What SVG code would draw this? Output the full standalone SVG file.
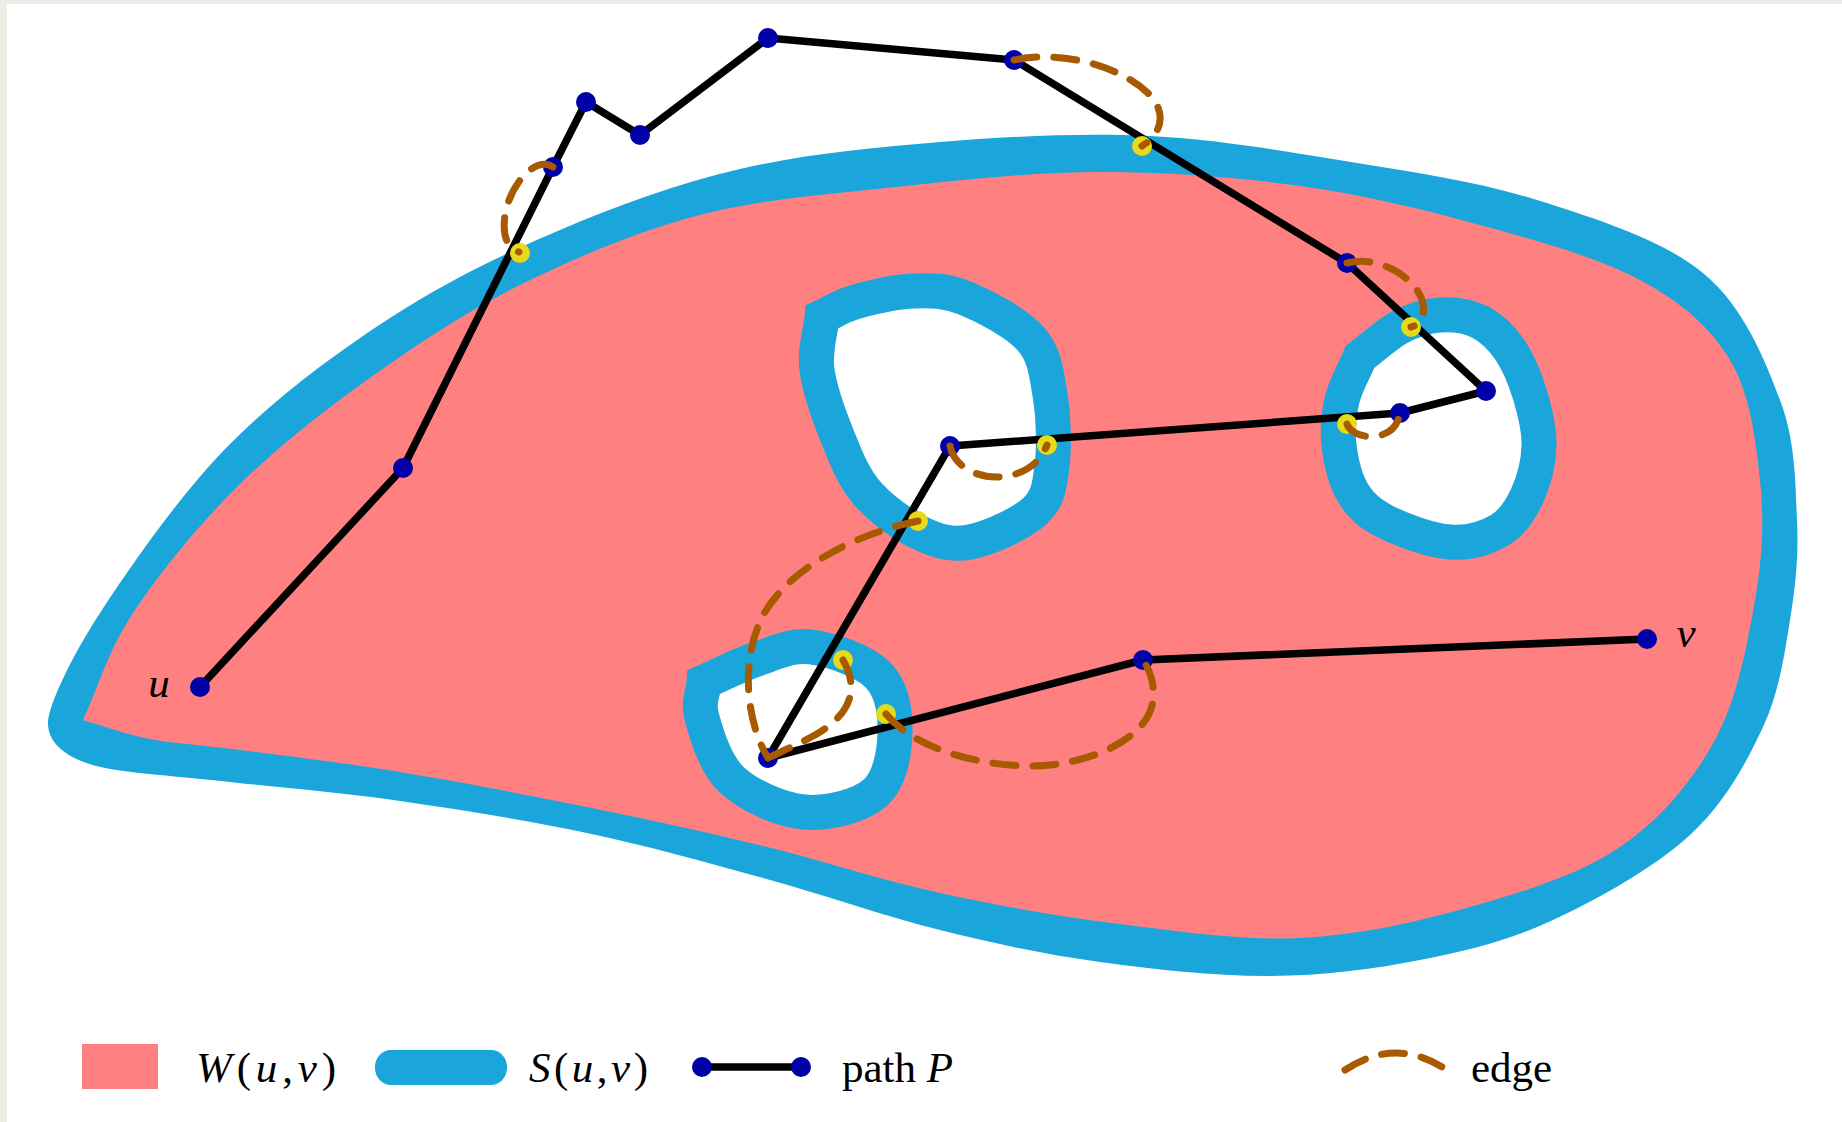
<svg xmlns="http://www.w3.org/2000/svg" width="1842" height="1122" viewBox="0 0 1842 1122">
<style>
.band{fill:#1AA6DB}
.pink{fill:#FF8080}
.hole{fill:#FFFFFF;stroke:#1AA6DB;stroke-width:35;stroke-linejoin:miter;stroke-miterlimit:10}
.path{fill:none;stroke:#000000;stroke-width:7.5;stroke-linejoin:round;stroke-linecap:round}
.edge{fill:none;stroke:#A85A00;stroke-width:7;stroke-linecap:round;stroke-dasharray:23 17}
.node{fill:#0000A8}
.ynode{fill:#E6DA1A}
.t{font-family:"Liberation Serif",serif;font-size:43px;fill:#000}
.i{font-style:italic}
</style>
<rect width="1842" height="1122" fill="#EDEDE6"/>
<rect x="7" y="4" width="1835" height="1118" fill="#FFFFFF"/>
<g id="region">
<path class="band" d="M48,722 C49,705 70,659 100,613 S179.67,495.17 228,446 S334.67,354 390,318 S501.67,254.83 560,230 S676.67,183.67 740,169 S871.67,147.5 940,142 S1081.5,132.67 1150,136 S1286.5,151.5 1351,162 S1478.33,181.5 1537,200 S1662.5,239.67 1703,273 S1764.33,358.83 1780,400 S1795.33,483.33 1797,520 S1795.67,585.5 1790,620 S1779.67,691.17 1763,727 S1725,802.83 1690,835 S1598,899.17 1553,920 S1467.17,950.67 1420,960 S1323.33,975.67 1270,976 S1155,969.67 1100,962 S996.17,944 940,930 S821.83,894.17 763,878 S647.5,845.83 587,833 S459.5,809.5 400,801 S279.17,787.5 230,782 S133.83,773.67 105,768 C76.17,762.33 47,748 48,722 Z"/>
<path class="pink" d="M83,720 C99.67,684.33 107.5,651.67 133,613 S197,526.83 236,488 S319.67,413.83 367,380 S464.5,312.5 520,285 S637.33,231.33 700,215 S829.33,194.17 896,187 S1032.67,172.17 1100,172 S1236.67,177.17 1300,186 S1423.33,209.33 1480,225 S1598.33,257.5 1640,280 S1710,326.67 1730,360 S1755.83,440 1760,480 S1762.5,556.67 1755,600 S1737.5,698.83 1715,740 S1660.83,819.17 1620,847 S1523.33,891.83 1470,907 S1358.33,935.17 1300,938 S1180,931.5 1120,924 S999.5,906 940,893 S821.83,860.33 763,846 S647.5,819.33 587,807 S457.83,781.5 400,772 S281.67,755.5 240,750 S176.17,744 150,739 S105.33,726.33 83,720 Z"/>
</g>
<g id="hole1"><path class="hole" d="M822,317 C833,312 839.83,306.33 855,302 S894.67,291.67 913,291 S945.33,290 965,298 S1016.83,322.83 1031,339 S1046.5,373.83 1050,395 S1054.5,446.67 1052,466 S1048.67,498.33 1035,511 S989.17,538.33 970,542 S937.17,541.17 920,533 S880.67,508.83 867,493 S846.33,458.5 838,438 S819.67,390.17 817,370 S820.33,334.67 822,317 Z"/></g>
<g id="hole2"><path class="hole" d="M1360,357 C1373.33,347 1386.67,334 1400,327 S1426.67,315.83 1440,315 S1468.33,316.17 1480,322 S1501.67,337.83 1510,350 S1525.17,379 1530,395 S1539.5,429.17 1539,446 S1533.5,482 1527,496 S1512.83,522.33 1500,530 S1469,543.33 1450,542 S1402.17,530.17 1386,522 S1360.83,505.83 1353,493 S1340.83,460.5 1339,445 S1338.5,414.67 1342,400 S1354,371.33 1360,357 Z"/></g>
<g id="hole3"><path class="hole" d="M704,682 C721.67,674.33 739.17,664.83 757,659 S790.83,644.33 811,647 S864,660.67 878,675 S895.5,713.33 895,733 S890.17,779.83 875,793 S827.83,814.17 804,812 S749,795.67 732,780 S706.67,734.33 702,718 S703.33,694 704,682 Z"/></g>
<g id="connectors">
<path class="path" d="M200,687 L403,468 L553,167 L586,102 L640,135 L768,38 L1014,60 L1347,263 L1486,391 L1400,413 L950,446 L768,758 L1143,660 L1647,639"/>
</g>
<g id="nodes">
<circle id="u" class="node" cx="200" cy="687" r="10"/>
<circle id="n1" class="node" cx="403" cy="468" r="10"/>
<circle id="b1" class="node" cx="553" cy="167" r="10"/>
<circle id="n2" class="node" cx="586" cy="102" r="10"/>
<circle id="n3" class="node" cx="640" cy="135" r="10"/>
<circle id="n4" class="node" cx="768" cy="38" r="10"/>
<circle id="b2" class="node" cx="1014" cy="60" r="10"/>
<circle id="b3" class="node" cx="1347" cy="263" r="10"/>
<circle id="n5" class="node" cx="1486" cy="391" r="10"/>
<circle id="n6" class="node" cx="1400" cy="413" r="10"/>
<circle id="b4" class="node" cx="950" cy="446" r="10"/>
<circle id="n7" class="node" cx="768" cy="758" r="10"/>
<circle id="n8" class="node" cx="1143" cy="660" r="10"/>
<circle id="v" class="node" cx="1647" cy="639" r="10"/>
<circle id="y1" class="ynode" cx="520" cy="253" r="10"/>
<circle id="y2" class="ynode" cx="1142" cy="146" r="10"/>
<circle id="y3" class="ynode" cx="1411" cy="327" r="10"/>
<circle id="y4" class="ynode" cx="1347" cy="424" r="10"/>
<circle id="y5" class="ynode" cx="1047" cy="445" r="10"/>
<circle id="y6" class="ynode" cx="918" cy="521" r="10"/>
<circle id="y7" class="ynode" cx="843" cy="660" r="10"/>
<circle id="y8" class="ynode" cx="886" cy="714" r="10"/>
</g>
<g id="edges">
<path class="edge" d="M553,167 C535,155 510,185 505,215 C502,235 507,248 519,252"/>
<path class="edge" d="M1014,60 C1060,50 1120,65 1150,95 C1168,115 1160,135 1142,146"/>
<path class="edge" d="M1347,263 C1380,255 1415,278 1422,300 C1427,315 1420,325 1411,327"/>
<path class="edge" d="M1347,424 C1352,440 1395,445 1400,413"/>
<path class="edge" d="M950,446 C958,485 1030,490 1047,445"/>
<path class="edge" d="M918,521 C850,535 790,570 765,612 C740,655 745,720 768,758"/>
<path class="edge" d="M843,660 C860,690 850,715 815,735 C795,746 780,752 768,758"/>
<path class="edge" d="M886,714 C920,755 1000,770 1050,765 C1110,758 1150,730 1153,700 C1155,680 1148,668 1143,660"/>
</g>
<g id="labels">
<text class="t i" x="159" y="697" text-anchor="middle">u</text>
<text class="t i" x="1686" y="647" text-anchor="middle">v</text>
</g>
<g id="legend">
<rect x="82" y="1044" width="76" height="45" class="pink"/>
<text class="t" x="196" y="1082" textLength="140" lengthAdjust="spacing"><tspan class="i">W</tspan>(<tspan class="i">u</tspan>,<tspan class="i">v</tspan>)</text>
<rect x="375" y="1050" width="132" height="35" rx="16" ry="17" class="band"/>
<text class="t" x="529" y="1082" textLength="119" lengthAdjust="spacing"><tspan class="i">S</tspan>(<tspan class="i">u</tspan>,<tspan class="i">v</tspan>)</text>
<line x1="702" y1="1067" x2="801" y2="1067" class="path" stroke-width="7.5"/>
<circle class="node" cx="702" cy="1067" r="10"/>
<circle class="node" cx="801" cy="1067" r="10"/>
<text class="t" x="842" y="1082">path <tspan class="i">P</tspan></text>
<path class="edge" d="M1345,1070 Q1396,1036 1447,1070"/>
<text class="t" x="1471" y="1082">edge</text>
</g>
</svg>
